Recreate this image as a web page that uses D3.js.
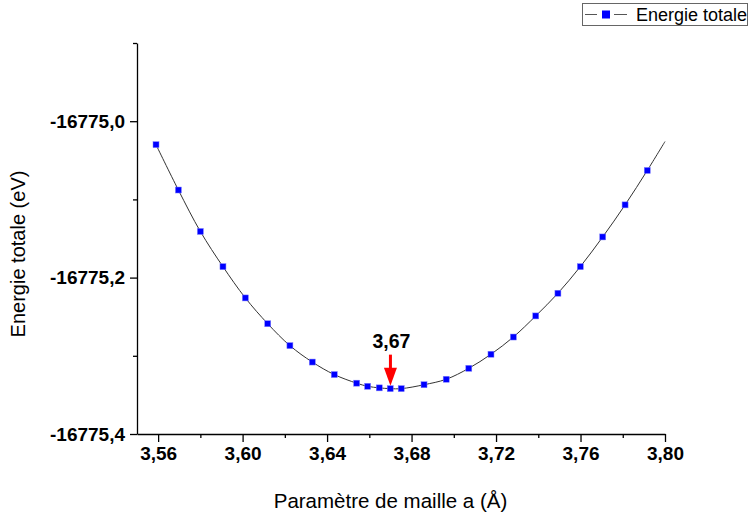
<!DOCTYPE html>
<html>
<head>
<meta charset="utf-8">
<script src="https://cdn.jsdelivr.net/npm/d3@7"></script>
<style>
  body { margin: 0; background: #fff; }
  svg { display: block; font-family: Arial, "Liberation Sans", sans-serif; }
</style>
</head>
<body>
<svg width="750" height="517"></svg>
<script>
// lattice parameter a (Å) and total energy (eV)
var aValues = [3.559, 3.5696, 3.580, 3.5907, 3.6013, 3.6119, 3.6224, 3.633, 3.6434,
    3.654, 3.6592, 3.6647, 3.6699, 3.6751, 3.6859, 3.6964, 3.7071, 3.7176,
    3.7282, 3.7388, 3.7493, 3.7599, 3.7705, 3.7811, 3.7916];
var energyValues = [-16775.030, -16775.088, -16775.141, -16775.186, -16775.226, -16775.259,
    -16775.287, -16775.308, -16775.324, -16775.335, -16775.339, -16775.341, -16775.342,
    -16775.342, -16775.337, -16775.330, -16775.316, -16775.298, -16775.276, -16775.249,
    -16775.220, -16775.186, -16775.148, -16775.107, -16775.063];
// fitted curve goes on past the last point up to the axis end
var fitEndA = [3.80];
var fitEndE = [-16775.026];

var xMajor = [3.56, 3.60, 3.64, 3.68, 3.72, 3.76, 3.80];
var xMinor = [3.58, 3.62, 3.66, 3.70, 3.74, 3.78];
var yMajor = [-16775.4, -16775.2, -16775.0];
var yMinor = [-16775.3, -16775.1, -16774.9];

var minA = 3.67;
var minLabel = "3,67";
var seriesName = "Energie totale";

var svg = d3.select("svg");
var mLeft = 137, mRight = 665, mTop = 43, mBottom = 434;

var locale = d3.formatLocale({ decimal: ",", thousands: "", grouping: [3], currency: ["", ""], minus: "-" });

var x = d3.scaleLinear().domain([3.55, 3.80]).range([mLeft, mRight]);
var y = d3.scaleLinear().domain([-16775.4, -16774.9]).range([mBottom, mTop]);

// axes
var gx = svg.append("g").attr("transform", "translate(0," + mBottom + ")");
gx.call(d3.axisBottom(x).tickValues(xMajor).tickSize(8).tickPadding(5)
    .tickFormat(locale.format(".2f")).tickSizeOuter(0));
gx.append("g").call(d3.axisBottom(x).tickValues(xMinor).tickSize(4).tickFormat("").tickSizeOuter(0))
    .select(".domain").remove();

var gy = svg.append("g").attr("transform", "translate(" + mLeft + ",0)");
gy.call(d3.axisLeft(y).tickValues(yMajor).tickSize(7).tickPadding(5)
    .tickFormat(locale.format(".1f")).tickSizeOuter(0));
gy.append("g").call(d3.axisLeft(y).tickValues(yMinor).tickSize(4).tickFormat("").tickSizeOuter(0))
    .select(".domain").remove();

svg.selectAll(".tick text")
    .attr("font-size", 19).attr("font-weight", "bold").attr("fill", "#000")
    .attr("font-family", "Arial, 'Liberation Sans', sans-serif");
svg.selectAll(".domain, .tick line").attr("stroke", "#000").attr("stroke-width", 1.3);

// axis titles
svg.append("text")
    .attr("x", 390.5).attr("y", 508)
    .attr("text-anchor", "middle").attr("font-size", 20.5)
    .text("Paramètre de maille a (Å)");

svg.append("text")
    .attr("transform", "translate(25,254) rotate(-90)")
    .attr("text-anchor", "middle").attr("font-size", 20)
    .text("Energie totale (eV)");

// fitted curve
var curveA = aValues.concat(fitEndA), curveE = energyValues.concat(fitEndE);
var line = d3.line()
    .x(function (d, i) { return x(curveA[i]); })
    .y(function (d, i) { return y(curveE[i]); })
    .curve(d3.curveCatmullRom);
svg.append("path")
    .attr("d", line(curveA))
    .attr("fill", "none").attr("stroke", "#333").attr("stroke-width", 1);

// points
svg.selectAll(".pt").data(aValues).enter().append("rect")
    .attr("class", "pt")
    .attr("x", function (d) { return x(d) - 3; })
    .attr("y", function (d, i) { return y(energyValues[i]) - 3; })
    .attr("width", 6).attr("height", 6)
    .attr("fill", "#0000ff").attr("stroke", "#8080ff").attr("stroke-width", 0.5);

// minimum annotation
var ax = x(minA), tipY = y(d3.min(energyValues)) - 3;
svg.append("text")
    .attr("x", ax + 1).attr("y", tipY - 38)
    .attr("text-anchor", "middle").attr("font-size", 19.5).attr("font-weight", "bold")
    .text(minLabel);
svg.append("line")
    .attr("x1", ax).attr("x2", ax).attr("y1", tipY - 31).attr("y2", tipY - 15)
    .attr("stroke", "#ff0000").attr("stroke-width", 3);
svg.append("path")
    .attr("d", "M" + (ax - 6.5) + "," + (tipY - 18) + "L" + (ax + 6.5) + "," + (tipY - 18) + "L" + ax + "," + tipY + "Z")
    .attr("fill", "#ff0000");

// legend
var lg = svg.append("g");
lg.append("rect").attr("x", 582.5).attr("y", 3.5).attr("width", 165).attr("height", 22)
    .attr("fill", "#fff").attr("stroke", "#666").attr("stroke-width", 1);
lg.append("line").attr("x1", 585).attr("x2", 597).attr("y1", 14.5).attr("y2", 14.5)
    .attr("stroke", "#555").attr("stroke-width", 1);
lg.append("line").attr("x1", 614).attr("x2", 627).attr("y1", 14.5).attr("y2", 14.5)
    .attr("stroke", "#555").attr("stroke-width", 1);
lg.append("rect").attr("x", 602).attr("y", 10.5).attr("width", 8).attr("height", 8)
    .attr("fill", "#0000ff");
lg.append("text").attr("x", 636).attr("y", 21).attr("font-size", 18)
    .text(seriesName);
</script>
</body>
</html>
